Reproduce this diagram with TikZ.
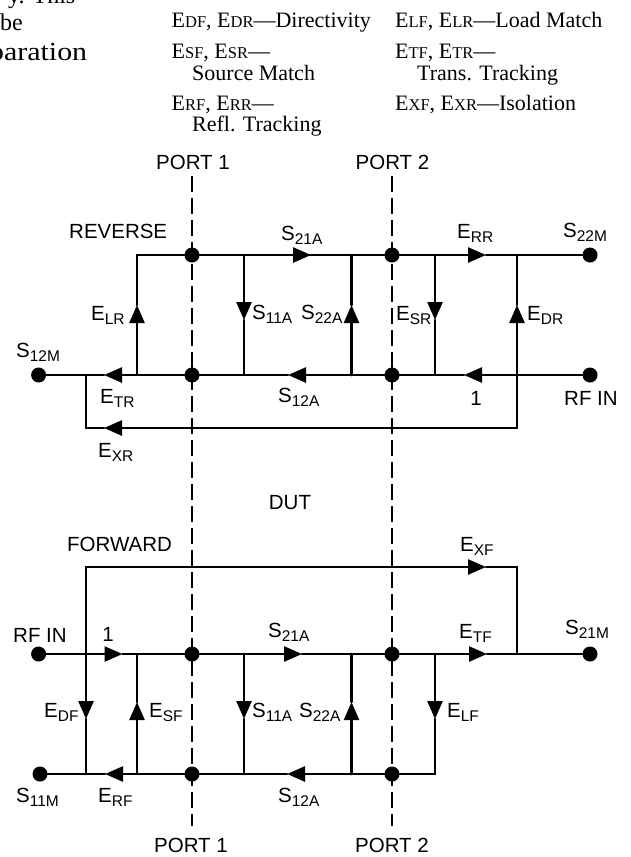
\documentclass[tikz,border=0pt]{standalone}
\usepackage{fontspec}
\setmainfont{Liberation Serif}
\setsansfont{Liberation Sans}
\newfontfamily\bodyfont[FakeStretch=1.15]{Liberation Serif}
\usetikzlibrary{arrows.meta}
\newcommand{\sg}[2]{#1{\fontsize{15.5}{15.5}\selectfont\raisebox{-4.5pt}{#2}}}
\newcommand{\sr}[2]{#1{\fontsize{16.5}{16.5}\selectfont #2}}
\tikzset{
  x=1pt,y=-1pt,
  wire/.style={line width=2.5pt,line cap=round,line join=round},
  flowwire/.style={wire,-{Triangle[width=15pt,length=18pt]}},
  portline/.style={line width=2pt,dash pattern=on 16pt off 6pt},
  dot/.style={circle,fill=black,inner sep=0pt,minimum size=15pt},
  lab/.style={anchor=base west,inner sep=0pt,font=\sffamily\fontsize{20.5}{24}\selectfont},
  clab/.style={anchor=base,inner sep=0pt,font=\sffamily\fontsize{20.5}{24}\selectfont},
  serif/.style={anchor=base west,inner sep=0pt,font=\rmfamily\fontsize{22}{26}\selectfont},
  body/.style={anchor=base west,inner sep=0pt,font=\bodyfont\fontsize{26}{30}\selectfont},
  bodycut/.style={anchor=base west,inner sep=0pt,font=\rmfamily\fontsize{24}{28}\selectfont},
}
\newcommand{\flowseg}[3]{\draw[flowwire] (#1) -- (#2); \draw[wire] (#2) -- (#3);}
\begin{document}
\begin{tikzpicture}
\clip (0,0) rectangle (630,857);
\fill[white] (0,0) rectangle (630,857);
% dashed port lines
\coordinate (pa1) at (192,176); \coordinate (pb1) at (192,826);
\coordinate (pa2) at (392,176); \coordinate (pb2) at (392,826);
\draw[portline] (pa1) -- (pb1);
\draw[portline] (pa2) -- (pb2);
% reverse dots
\node[dot] (rS12M) at (38.6,375) {};
\node[dot] (rb1) at (192,375) {};
\node[dot] (rb2) at (392,375) {};
\node[dot] (rIN) at (590,375) {};
\node[dot] (rt1) at (192,255) {};
\node[dot] (rt2) at (392,255) {};
\node[dot] (rS22M) at (590,255) {};
% reverse junctions
\foreach \n/\x/\y in {rbA/86/375,rbB/137/375,rbC/244/375,rbD/351.5/375,rbE/435/375,rbF/517/375,
  rtB/137/255,rtC/244/255,rtD/351.5/255,rtE/435/255,rtF/517/255,rxL/86/428,rxR/517/428,
  tS21r/311/255,tERR/486/255,tETR/104/375,tS12r/288/375,tONEr/464/375,tEXR/104/428,
  tELR/137/305,tS11r/244/320,tS22r/351.5/305,tESR/435/320,tEDR/517/305}
  {\coordinate (\n) at (\x,\y);}
\draw[wire] (rtB) -- (rt1);
\flowseg{rt1}{tS21r}{rtC}
\draw[wire] (rtC) -- (rtD) -- (rt2) -- (rtE);
\flowseg{rtE}{tERR}{rtF}
\draw[wire] (rtF) -- (rS22M);
\draw[wire] (rIN) -- (rbF);
\flowseg{rbF}{tONEr}{rbE}
\draw[wire] (rbE) -- (rb2) -- (rbD);
\flowseg{rbD}{tS12r}{rbC}
\draw[wire] (rbC) -- (rb1) -- (rbB);
\flowseg{rbB}{tETR}{rbA}
\draw[wire] (rbA) -- (rS12M);
\flowseg{rbB}{tELR}{rtB}
\flowseg{rtC}{tS11r}{rbC}
\flowseg{rbD}{tS22r}{rtD}
\flowseg{rtE}{tESR}{rbE}
\flowseg{rbF}{tEDR}{rtF}
\draw[wire] (rbF) -- (rxR);
\flowseg{rxR}{tEXR}{rxL}
\draw[wire] (rxL) -- (rbA);
% forward dots
\node[dot] (fIN) at (38.6,654) {};
\node[dot] (fm1) at (192,654) {};
\node[dot] (fm2) at (392,654) {};
\node[dot] (fS21M) at (590,654) {};
\node[dot] (fS11M) at (40,774) {};
\node[dot] (fb1) at (192,774) {};
\node[dot] (fb2) at (392,774) {};
% forward junctions
\foreach \n/\x/\y in {fmA/86/654,fmB/137/654,fmC/244/654,fmD/351.5/654,fmE/435/654,fmF/517/654,
  fbA/86/774,fbB/137/774,fbC/244/774,fbD/351.5/774,fbE/435/774,
  fxL/86/567,fxR/517/567,tEXF/486/567,tONEf/122.5/654,tS21f/302/654,tETF/487/654,
  tERF/105/774,tS12f/287/774,tEDF/86/719,tESF/137/702,tS11f/244/719,tS22f/351.5/702,tELF/435/719}
  {\coordinate (\n) at (\x,\y);}
\flowseg{fIN}{tONEf}{fmB}
\draw[wire] (fmB) -- (fm1) -- (fmC);
\flowseg{fmC}{tS21f}{fmD}
\draw[wire] (fmD) -- (fm2) -- (fmE);
\flowseg{fmE}{tETF}{fmF}
\draw[wire] (fmF) -- (fS21M);
\draw[wire] (fmF) -- (fxR);
\draw[wire] (fxL) -- (fmA);
\flowseg{fxL}{tEXF}{fxR}
\flowseg{fmA}{tEDF}{fbA}
\flowseg{fbB}{tESF}{fmB}
\flowseg{fmC}{tS11f}{fbC}
\flowseg{fbD}{tS22f}{fmD}
\flowseg{fmE}{tELF}{fbE}
\draw[wire] (fbE) -- (fb2) -- (fbD);
\flowseg{fbD}{tS12f}{fbC}
\draw[wire] (fbC) -- (fb1) -- (fbB);
\flowseg{fbB}{tERF}{fbA}
\draw[wire] (fbA) -- (fS11M);
% labels
\node[clab] (lp1t) at (193,169) {PORT 1};
\node[clab] (lp2t) at (392.5,169) {PORT 2};
\node[clab] (lp1b) at (191,852) {PORT 1};
\node[clab] (lp2b) at (392,852) {PORT 2};
\node[lab] (lrev) at (69,238) {REVERSE};
\node[lab] (lfor) at (67,551) {FORWARD};
\node[clab] (ldut) at (290,509) {DUT};
\node[lab] (l1) at (281,240) {\sg{S}{21A}};
\node[lab] (l2) at (457,238) {\sg{E}{RR}};
\node[lab] (l3) at (563,237) {\sg{S}{22M}};
\node[lab] (l4) at (91,320) {\sg{E}{LR}};
\node[lab] (l5) at (252,319) {\sg{S}{11A}};
\node[lab] (l6) at (301,319) {\sg{S}{22A}};
\node[lab] (l7) at (396,320) {\sg{E}{SR}};
\node[lab] (l8) at (527,320) {\sg{E}{DR}};
\node[lab] (l9) at (16,357) {\sg{S}{12M}};
\node[lab] (l10) at (100,403) {\sg{E}{TR}};
\node[lab] (l11) at (278,402) {\sg{S}{12A}};
\node[clab] (l12) at (476,405) {1};
\node[lab] (l13) at (564,405) {RF IN};
\node[lab] (l14) at (98,457) {\sg{E}{XR}};
\node[lab] (l15) at (460,551) {\sg{E}{XF}};
\node[lab] (l16) at (13,642) {RF IN};
\node[clab] (l17) at (108,641) {1};
\node[lab] (l18) at (268,637) {\sg{S}{21A}};
\node[lab] (l19) at (459,638) {\sg{E}{TF}};
\node[lab] (l20) at (565,634) {\sg{S}{21M}};
\node[lab] (l21) at (44,717) {\sg{E}{DF}};
\node[lab] (l22) at (149,717) {\sg{E}{SF}};
\node[lab] (l23) at (252,717) {\sg{S}{11A}};
\node[lab] (l24) at (299,717) {\sg{S}{22A}};
\node[lab] (l25) at (447,717) {\sg{E}{LF}};
\node[lab] (l26) at (16,802) {\sg{S}{11M}};
\node[lab] (l27) at (98,802) {\sg{E}{RF}};
\node[lab] (l28) at (278,802) {\sg{S}{12A}};
% top legend
\node[serif] (t1) at (171.5,27) {\sr{E}{DF}, \sr{E}{DR}---Directivity};
\node[serif] (t2) at (171.5,58) {\sr{E}{SF}, \sr{E}{SR}---};
\node[serif] (t3) at (192,80) {Source Match};
\node[serif] (t4) at (171.5,110) {\sr{E}{RF}, \sr{E}{RR}---};
\node[serif] (t5) at (192,131) {Refl. Tracking};
\node[serif] (t6) at (395,27) {\sr{E}{LF}, \sr{E}{LR}---Load Match};
\node[serif] (t7) at (395,58) {\sr{E}{TF}, \sr{E}{TR}---};
\node[serif] (t8) at (417,80) {Trans. Tracking};
\node[serif] (t9) at (395,110) {\sr{E}{XF}, \sr{E}{XR}---Isolation};
% body text cut by the picture's edge, as in the reference
\node[bodycut] (b1) at (8,3) {y. This};
\node[bodycut] (b2) at (0,30) {be};
\node[body] (b3) at (-11,60) {paration};
\end{tikzpicture}
\end{document}
